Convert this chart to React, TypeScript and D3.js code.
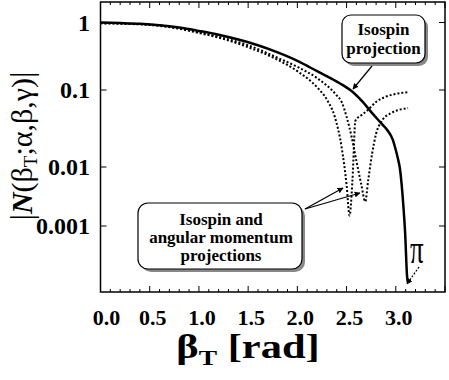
import React from 'react';
import * as d3 from 'd3';

const W = 449;
const H = 380;

const xMajor = [0, 0.5, 1, 1.5, 2, 2.5, 3, 3.5];
const xTickLabels = ['0.0', '0.5', '1.0', '1.5', '2.0', '2.5', '3.0'];
const yTicks = [1, 0.1, 0.01, 0.001];
const yTickLabels = ['1', '0.1', '0.01', '0.001'];

// Isospin projection (solid)
const betaSolid = [0, 0.2, 0.4, 0.6, 0.8, 1.0, 1.2, 1.4, 1.6, 1.8, 2.0, 2.2, 2.43, 2.56, 2.66, 2.76, 2.86, 2.92, 2.97, 3.0, 3.02, 3.044, 3.06, 3.08, 3.095, 3.115, 3.125];
const normSolid = [1.0, 0.98, 0.955, 0.91, 0.84, 0.75, 0.66, 0.56, 0.46, 0.36, 0.27, 0.19, 0.126, 0.095, 0.071, 0.05, 0.036, 0.0294, 0.0225, 0.0166, 0.0131, 0.0089, 0.00495, 0.00187, 0.00076, 0.000137, 0.000108];

// Isospin + angular momentum projections (dotted)
const betaA = [0, 0.25, 0.5, 0.75, 1.0, 1.25, 1.5, 1.8, 2.0, 2.2, 2.3, 2.38, 2.45, 2.5, 2.53, 2.56, 2.59, 2.65, 2.71, 2.8, 2.9, 3.0, 3.125];
const normA = [0.97, 0.955, 0.92, 0.83, 0.7, 0.57, 0.43, 0.28, 0.19, 0.11, 0.075, 0.045, 0.018, 0.005, 0.0015, 0.006, 0.04, 0.047, 0.054, 0.07, 0.082, 0.089, 0.094];
const betaB = [0, 0.25, 0.5, 0.75, 1.0, 1.25, 1.5, 1.8, 2.0, 2.2, 2.4, 2.45, 2.5, 2.55, 2.6, 2.65, 2.69, 2.72, 2.76, 2.8, 2.86, 2.95, 3.05, 3.125];
const normB = [0.98, 0.965, 0.93, 0.85, 0.72, 0.59, 0.46, 0.3, 0.22, 0.15, 0.085, 0.07, 0.045, 0.025, 0.012, 0.005, 0.0026, 0.006, 0.015, 0.027, 0.04, 0.05, 0.056, 0.058];

const FONT = "'Liberation Serif', 'Times New Roman', serif";

export default function App() {
  const left = 100.5, right = 445, top = 2, bottom = 292;
  const x = d3.scaleLinear().domain([0, 3.5]).range([left, right]);
  const yLog = d3.scaleLinear().domain([0, -1, -2, -3]).range([22.5, 90, 167, 226]);
  const y = (v: number) => yLog(Math.log10(v));

  const line = (bs: number[], vs: number[]) =>
    d3.line<number>().x((_, i) => x(bs[i])).y((v) => y(v)).curve(d3.curveMonotoneX)(vs) || '';

  const minor = d3.range(0, 36).map((i) => i / 10);

  return (
    <svg width={W} height={H} style={{ display: 'block', position: 'absolute', left: 0, top: 0 }}>
      <defs>
        <marker id="ah" viewBox="0 0 10 10" refX="9" refY="5" markerWidth="5" markerHeight="5" orient="auto">
          <path d="M0,0 L10,5 L0,10 z" fill="#000" />
        </marker>
      </defs>
      <rect x={0} y={0} width={W} height={H} fill="#fff" />
      {/* frame */}
      <rect x={left} y={top} width={right - left} height={bottom - top} fill="none" stroke="#000" strokeWidth={1.5} />
      {/* x ticks */}
      {minor.map((v, i) => {
        const isMajor = i % 5 === 0;
        const len = isMajor ? 6 : 3;
        return (
          <g key={'xt' + i}>
            <line x1={x(v)} x2={x(v)} y1={bottom} y2={bottom - len} stroke="#000" strokeWidth={1} />
            <line x1={x(v)} x2={x(v)} y1={top} y2={top + len} stroke="#000" strokeWidth={1} />
          </g>
        );
      })}
      {/* y ticks */}
      {yTicks.map((v, i) => (
        <g key={'yt' + i}>
          <line x1={left} x2={left + 6} y1={y(v)} y2={y(v)} stroke="#000" strokeWidth={1} />
          <line x1={right} x2={right - 6} y1={y(v)} y2={y(v)} stroke="#000" strokeWidth={1} />
        </g>
      ))}
      {/* tick labels */}
      {xTickLabels.map((t, i) => (
        <text key={'xl' + i} x={x(xMajor[i]) + (i === 0 ? 6 : 3)} y={325} textAnchor="middle"
          fontFamily={FONT} fontWeight="bold" fontSize={22}>{t}</text>
      ))}
      {yTickLabels.map((t, i) => (
        <text key={'yl' + i} x={90} y={y(yTicks[i]) + 8} textAnchor="end"
          fontFamily={FONT} fontWeight="bold" fontSize={24}>{t}</text>
      ))}
      {/* curves */}
      <path d={line(betaA, normA)} fill="none" stroke="#000" strokeWidth={2} strokeDasharray="2,2" />
      <path d={line(betaB, normB)} fill="none" stroke="#000" strokeWidth={2} strokeDasharray="2,2" />
      <path d={line(betaSolid, normSolid)} fill="none" stroke="#000" strokeWidth={2.5} />

      {/* box 1 */}
      <rect x={345} y={18} width={83} height={48} rx={9} fill="#888" />
      <rect x={342} y={15} width={83} height={48} rx={9} fill="#fff" stroke="#000" strokeWidth={1.2} />
      <text x={383.5} y={35} textAnchor="middle" fontFamily={FONT} fontWeight="bold" fontSize={17}>Isospin</text>
      <text x={383.5} y={54} textAnchor="middle" fontFamily={FONT} fontWeight="bold" fontSize={17}>projection</text>
      <line x1={372} y1={66} x2={353} y2={89} stroke="#000" strokeWidth={1.2} markerEnd="url(#ah)" />

      {/* box 2 */}
      <rect x={141} y={206} width={164} height={66} rx={10} fill="#888" />
      <rect x={138} y={203} width={164} height={66} rx={10} fill="#fff" stroke="#000" strokeWidth={1.2} />
      <text x={221} y={225} textAnchor="middle" fontFamily={FONT} fontWeight="bold" fontSize={17}>Isospin and</text>
      <text x={221} y={243} textAnchor="middle" fontFamily={FONT} fontWeight="bold" fontSize={17}>angular momentum</text>
      <text x={221} y={261} textAnchor="middle" fontFamily={FONT} fontWeight="bold" fontSize={17}>projections</text>
      <line x1={305} y1={209} x2={343} y2={188} stroke="#000" strokeWidth={1.2} markerEnd="url(#ah)" />
      <line x1={305} y1={209} x2={360} y2={193} stroke="#000" strokeWidth={1.2} markerEnd="url(#ah)" />

      {/* pi */}
      <text transform="translate(410,263) scale(1,1.5)" fontFamily={FONT} fontSize={27}>π</text>
      <line x1={419} y1={267} x2={407} y2={284} stroke="#000" strokeWidth={1.2} strokeDasharray="2,1.5" markerEnd="url(#ah)" />

      {/* axis titles */}
      <text transform="translate(248,358) scale(1.25,1)" textAnchor="middle" fontFamily={FONT} fontWeight="bold" fontSize={34}>
        <tspan>β</tspan>
        <tspan dy={7} fontSize={22}>T</tspan>
        <tspan dy={-7}> [rad]</tspan>
      </text>
      <g transform="translate(32,146) rotate(-90)">
        <text x={0} y={0} textAnchor="middle" fontFamily={FONT} fontWeight="bold" fontSize={30}>
          <tspan fontSize={32} fontWeight="normal">|</tspan>
          <tspan fontStyle="italic">N</tspan>
          <tspan fontWeight="normal">(β</tspan>
          <tspan dy={5} fontSize={19} fontWeight="normal">T</tspan>
          <tspan dy={-5} fontWeight="normal">;α,β,γ)</tspan>
          <tspan fontSize={32} fontWeight="normal">|</tspan>
        </text>
      </g>
    </svg>
  );
}
